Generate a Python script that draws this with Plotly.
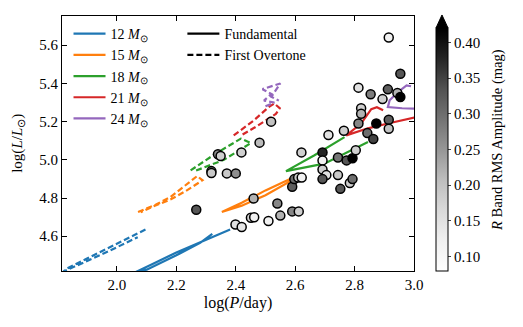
import plotly.graph_objects as go

# observed stars: log period, log luminosity, R band rms amplitude
star_logp = [2.267, 2.318, 2.318, 2.340, 2.349, 2.370, 2.400, 2.419, 2.399, 2.420,
             2.451, 2.462, 2.460, 2.480, 2.510, 2.519, 2.540, 2.550, 2.590, 2.612,
             2.590, 2.597, 2.610, 2.622, 2.621, 2.692, 2.692, 2.692, 2.705, 2.692,
             2.712, 2.744, 2.773, 2.793, 2.804, 2.744, 2.752, 2.784, 2.793, 2.764,
             2.813, 2.822, 2.822, 2.813, 2.843, 2.863, 2.854, 2.873, 2.894, 2.912,
             2.915, 2.915, 2.915, 2.944, 2.954, 2.954]
star_logl = [4.739, 4.941, 4.931, 5.029, 5.020, 4.929, 4.929, 5.039, 4.661, 4.648,
             4.697, 4.699, 4.798, 5.090, 4.680, 5.200, 4.771, 4.708, 4.730, 4.730,
             4.859, 4.899, 4.907, 4.907, 5.039, 5.039, 4.997, 4.949, 4.920, 4.899,
             5.130, 5.012, 4.997, 5.008, 5.050, 4.920, 4.848, 4.879, 4.899, 5.152,
             5.190, 5.270, 5.241, 5.378, 5.140, 5.109, 5.343, 5.190, 5.318, 5.369,
             5.210, 5.163, 5.640, 5.350, 5.329, 5.451]
star_amp = [0.33, 0.30, 0.19, 0.26, 0.18, 0.19, 0.26, 0.18, 0.15, 0.14,
            0.18, 0.12, 0.22, 0.21, 0.12, 0.20, 0.27, 0.22, 0.27, 0.18,
            0.32, 0.30, 0.19, 0.12, 0.18, 0.38, 0.12, 0.18, 0.15, 0.33,
            0.15, 0.29, 0.33, 0.42, 0.18, 0.19, 0.33, 0.18, 0.30, 0.18,
            0.27, 0.18, 0.22, 0.15, 0.30, 0.35, 0.28, 0.42, 0.18, 0.32,
            0.32, 0.20, 0.12, 0.22, 0.42, 0.33]

masses = ["12", "15", "18", "21", "24"]
colors = ["#1f77b4", "#ff7f0e", "#2ca02c", "#d62728", "#9467bd"]

# fundamental mode tracks
fund_x = [
    [2.381, 2.30, 2.20, 2.12, 2.06, 2.10, 2.20, 2.28, 2.321],
    [2.353, 2.42, 2.50, 2.59, 2.585, 2.50, 2.42, 2.353],
    [2.766, 2.665, 2.569, 2.698, 2.845],
    [2.896, 2.875, 2.856, 2.822, 2.772, 2.845, 2.912, 3.01],
    [3.01, 2.96, 2.912, 2.918, 2.946, 2.975, 2.99],
]
fund_y = [
    [4.635, 4.583, 4.515, 4.455, 4.41, 4.425, 4.50, 4.565, 4.612],
    [4.727, 4.775, 4.84, 4.905, 4.89, 4.815, 4.76, 4.727],
    [5.119, 5.024, 4.941, 4.98, 5.093],
    [5.259, 5.275, 5.265, 5.19, 5.128, 5.165, 5.19, 5.225],
    [5.268, 5.27, 5.276, 5.312, 5.355, 5.39, 5.385],
]

# first overtone tracks
fo_x = [
    [2.096, 2.05, 1.989, 1.92, 1.83, 1.82, 1.90, 1.97, 2.03, 2.07],
    [2.071, 2.13, 2.18, 2.27, 2.288, 2.23, 2.18, 2.12, 2.08],
    [2.248, 2.33, 2.417, 2.451, 2.36, 2.26],
    [2.393, 2.46, 2.51, 2.53, 2.548, 2.535, 2.47, 2.415],
    [2.50, 2.53, 2.495, 2.52, 2.49, 2.53, 2.55, 2.52, 2.545],
]
fo_y = [
    [4.635, 4.60, 4.552, 4.50, 4.43, 4.415, 4.47, 4.52, 4.565, 4.595],
    [4.727, 4.765, 4.805, 4.915, 4.893, 4.835, 4.792, 4.755, 4.725],
    [4.945, 5.03, 5.111, 5.088, 5.0, 4.94],
    [5.128, 5.205, 5.275, 5.295, 5.27, 5.24, 5.175, 5.125],
    [5.28, 5.30, 5.31, 5.345, 5.37, 5.39, 5.40, 5.33, 5.31],
]

greys = [[0.0, "#ffffff"], [0.125, "#f0f0f0"], [0.25, "#d9d9d9"], [0.375, "#bdbdbd"],
         [0.5, "#969696"], [0.625, "#737373"], [0.75, "#525252"], [0.875, "#252525"],
         [1.0, "#000000"]]

FONT = "Liberation Serif"
DASH = "6px,3px"

fig = go.Figure()

for i, m in enumerate(masses):
    fig.add_trace(go.Scatter(
        x=fo_x[i], y=fo_y[i], mode="lines",
        line=dict(color=colors[i], width=2.2, dash=DASH),
        showlegend=False, hoverinfo="skip"))
    fig.add_trace(go.Scatter(
        x=fund_x[i], y=fund_y[i], mode="lines",
        line=dict(color=colors[i], width=2.2),
        name=f"{m} <i>M</i><sub>⊙</sub>", legend="legend"))

fig.add_trace(go.Scatter(
    x=[None], y=[None], mode="lines", line=dict(color="black", width=2.2),
    name="Fundamental", legend="legend2"))
fig.add_trace(go.Scatter(
    x=[None], y=[None], mode="lines", line=dict(color="black", width=2.2, dash=DASH),
    name="First Overtone", legend="legend2"))

fig.add_trace(go.Scatter(
    x=star_logp, y=star_logl, mode="markers", showlegend=False,
    marker=dict(
        size=9, color=star_amp, colorscale=greys, cmin=0.08, cmax=0.42,
        line=dict(color="black", width=1.5),
        colorbar=dict(
            x=1.0625, xanchor="left", y=0, yanchor="bottom",
            xpad=0, ypad=0,
            thickness=12, len=243, lenmode="pixels",
            outlinewidth=1, outlinecolor="black",
            tickvals=[0.10, 0.15, 0.20, 0.25, 0.30, 0.35, 0.40],
            tickformat=".2f", ticks="outside", ticklen=3,
            tickfont=dict(family=FONT, size=15, color="black"),
        ),
    )))

# extend arrow on top of the colour bar
fig.add_shape(type="path", xref="paper", yref="paper",
              path="M 1.0625,0.953 L 1.0966,0.953 L 1.0795,1.004 Z",
              fillcolor="black", line=dict(color="black", width=1))

# colour bar title
fig.add_annotation(text="<i>R</i> Band RMS Amplitude (mag)", xref="paper", yref="paper",
                   x=1.2386, y=0.514, xanchor="center", yanchor="middle",
                   textangle=-90, showarrow=False,
                   font=dict(family=FONT, size=14.5, color="black"))

# y axis title
fig.add_annotation(text="log(<i>L</i>/<i>L</i><sub>⊙</sub>)", xref="paper", yref="paper",
                   x=-0.127, y=0.5, xanchor="center", yanchor="middle",
                   textangle=-90, showarrow=False,
                   font=dict(family=FONT, size=15, color="black"))

axis_common = dict(
    showline=True, linecolor="black", linewidth=1.2, mirror="ticks",
    ticks="inside", ticklen=5, tickcolor="black", showgrid=False, zeroline=False,
    tickfont=dict(family=FONT, size=15, color="black"),
)

# page body has an 8px margin, so the figure is 8px smaller each way
fig.update_layout(
    width=515, height=319,
    margin=dict(l=54, r=109, t=8, b=56),
    plot_bgcolor="white", paper_bgcolor="white",
    font=dict(family=FONT, size=12, color="black"),
    xaxis=dict(range=[1.815, 3.0], tickvals=[2.0, 2.2, 2.4, 2.6, 2.8, 3.0],
               tickformat=".1f",
               title=dict(text="log(<i>P</i>/day)", standoff=4,
                          font=dict(family=FONT, size=16)), **axis_common),
    yaxis=dict(range=[4.418, 5.753], tickvals=[4.6, 4.8, 5.0, 5.2, 5.4, 5.6],
               tickformat=".1f", **axis_common),
    legend=dict(x=0.0185, y=0.992, xanchor="left", yanchor="top",
                bgcolor="rgba(0,0,0,0)", font=dict(family=FONT, size=14),
                tracegroupgap=0, itemwidth=32),
    legend2=dict(x=0.342, y=0.992, xanchor="left", yanchor="top",
                 bgcolor="rgba(0,0,0,0)", font=dict(family=FONT, size=14),
                 itemwidth=32),
)

fig.write_html("out.html")
